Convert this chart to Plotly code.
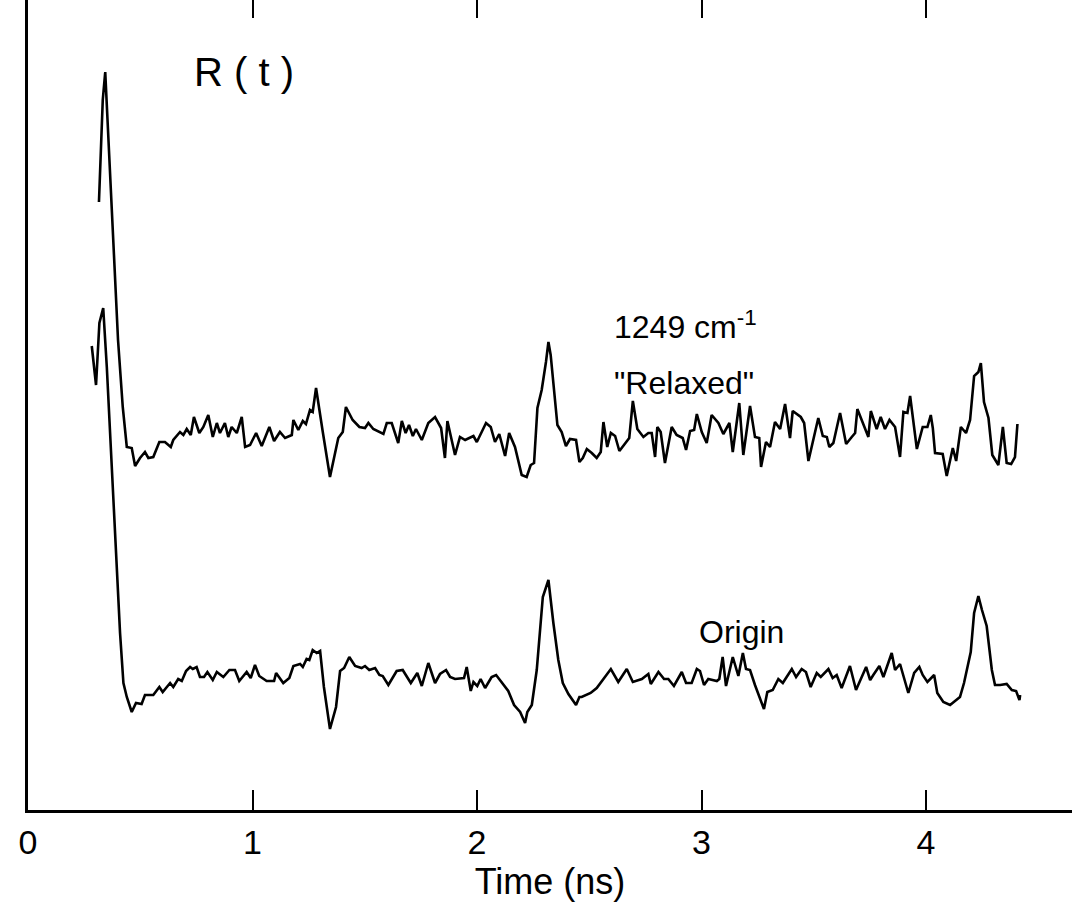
import plotly.graph_objects as go

# Time axis (ns) and response R(t) in arbitrary units for the two spectra
t_relaxed = [0.316, 0.333, 0.344, 0.356, 0.379, 0.401, 0.422, 0.440, 0.462, 0.477, 0.499, 0.521,
             0.536, 0.558, 0.585, 0.610, 0.636, 0.647, 0.677, 0.692, 0.707, 0.725, 0.739, 0.763,
             0.781, 0.803, 0.823, 0.841, 0.855, 0.877, 0.892, 0.907, 0.930, 0.952, 0.967, 0.989,
             1.016, 1.041, 1.075, 1.096, 1.122, 1.145, 1.175, 1.182, 1.204, 1.224, 1.238, 1.256,
             1.268, 1.283, 1.313, 1.345, 1.382, 1.402, 1.416, 1.446, 1.476, 1.501, 1.516, 1.538,
             1.583, 1.598, 1.620, 1.649, 1.665, 1.682, 1.697, 1.714, 1.728, 1.754, 1.783, 1.813,
             1.840, 1.857, 1.868, 1.902, 1.924, 1.947, 1.984, 1.999, 2.025, 2.040, 2.061, 2.080,
             2.099, 2.125, 2.143, 2.169, 2.199, 2.221, 2.239, 2.254, 2.269, 2.288, 2.307, 2.318,
             2.328, 2.358, 2.377, 2.396, 2.414, 2.441, 2.456, 2.471, 2.489, 2.511, 2.533, 2.551,
             2.563, 2.580, 2.596, 2.615, 2.634, 2.659, 2.678, 2.694, 2.714, 2.741, 2.763, 2.778,
             2.793, 2.803, 2.818, 2.837, 2.867, 2.889, 2.916, 2.931, 2.949, 2.967, 2.979, 3.001,
             3.023, 3.045, 3.075, 3.097, 3.124, 3.139, 3.168, 3.186, 3.216, 3.238, 3.257, 3.265,
             3.287, 3.305, 3.327, 3.350, 3.372, 3.394, 3.406, 3.442, 3.457, 3.476, 3.498, 3.520,
             3.540, 3.558, 3.569, 3.587, 3.617, 3.644, 3.669, 3.684, 3.694, 3.718, 3.743, 3.754,
             3.780, 3.798, 3.817, 3.837, 3.862, 3.884, 3.899, 3.917, 3.929, 3.959, 3.985, 4.006,
             4.021, 4.030, 4.040, 4.074, 4.092, 4.119, 4.134, 4.155, 4.178, 4.196, 4.214, 4.233,
             4.244, 4.258, 4.278, 4.295, 4.322, 4.342, 4.359, 4.379, 4.396, 4.407]
r_relaxed = [6.08, 7.10, 7.38, 6.80, 5.70, 4.70, 4.03, 3.63, 3.62, 3.44, 3.52, 3.58,
             3.52, 3.53, 3.68, 3.68, 3.63, 3.70, 3.78, 3.75, 3.81, 3.75, 3.93, 3.77,
             3.83, 3.95, 3.73, 3.87, 3.77, 3.87, 3.73, 3.83, 3.77, 3.93, 3.63, 3.65,
             3.77, 3.64, 3.83, 3.69, 3.78, 3.72, 3.75, 3.90, 3.80, 3.89, 3.86, 4.00,
             3.98, 4.22, 3.78, 3.33, 3.72, 3.78, 4.03, 3.90, 3.83, 3.82, 3.87, 3.81,
             3.76, 3.87, 3.87, 3.67, 3.89, 3.77, 3.85, 3.74, 3.81, 3.70, 3.87, 3.93,
             3.82, 3.52, 3.89, 3.55, 3.73, 3.70, 3.74, 3.68, 3.80, 3.87, 3.83, 3.68,
             3.76, 3.54, 3.77, 3.63, 3.35, 3.33, 3.45, 3.47, 4.02, 4.20, 4.48, 4.68,
             4.55, 3.85, 3.78, 3.64, 3.71, 3.70, 3.48, 3.52, 3.61, 3.57, 3.52, 3.58,
             3.88, 3.63, 3.77, 3.74, 3.59, 3.66, 3.72, 4.09, 3.81, 3.73, 3.77, 3.77,
             3.53, 3.83, 3.78, 3.47, 3.83, 3.75, 3.72, 3.60, 3.79, 3.80, 3.96, 3.78,
             3.67, 3.95, 3.87, 3.76, 3.87, 3.58, 4.07, 3.55, 4.04, 3.73, 3.72, 3.43,
             3.68, 3.63, 3.88, 3.81, 4.06, 3.72, 3.99, 3.93, 3.87, 3.49, 3.70, 3.92,
             3.74, 3.73, 3.63, 3.67, 3.97, 3.66, 3.73, 3.77, 4.01, 3.88, 3.73, 3.99,
             3.81, 3.93, 3.81, 3.90, 3.83, 3.53, 3.98, 3.97, 4.14, 3.61, 3.83, 3.83,
             3.95, 3.82, 3.57, 3.56, 3.34, 3.62, 3.49, 3.83, 3.77, 3.90, 4.34, 4.38,
             4.47, 4.08, 3.92, 3.55, 3.45, 3.83, 3.47, 3.46, 3.53, 3.86]

t_origin = [0.284, 0.303, 0.318, 0.335, 0.351, 0.365, 0.380, 0.395, 0.410, 0.425, 0.440, 0.462,
            0.481, 0.506, 0.521, 0.558, 0.585, 0.600, 0.633, 0.647, 0.669, 0.685, 0.704, 0.722,
            0.734, 0.751, 0.766, 0.784, 0.799, 0.823, 0.841, 0.870, 0.897, 0.922, 0.941, 0.974,
            0.992, 1.011, 1.030, 1.063, 1.096, 1.105, 1.137, 1.164, 1.182, 1.212, 1.224, 1.241,
            1.253, 1.268, 1.286, 1.301, 1.318, 1.345, 1.372, 1.390, 1.408, 1.431, 1.457, 1.486,
            1.501, 1.520, 1.546, 1.565, 1.580, 1.605, 1.642, 1.669, 1.705, 1.734, 1.754, 1.783,
            1.813, 1.835, 1.862, 1.880, 1.902, 1.942, 1.954, 1.972, 1.984, 2.001, 2.016, 2.036,
            2.065, 2.085, 2.110, 2.139, 2.165, 2.192, 2.214, 2.224, 2.244, 2.266, 2.293, 2.318,
            2.340, 2.362, 2.382, 2.407, 2.441, 2.456, 2.466, 2.486, 2.506, 2.533, 2.563, 2.596,
            2.629, 2.667, 2.694, 2.734, 2.763, 2.774, 2.808, 2.833, 2.852, 2.877, 2.912, 2.931,
            2.956, 2.979, 2.993, 3.011, 3.030, 3.068, 3.079, 3.094, 3.109, 3.139, 3.164, 3.184,
            3.198, 3.216, 3.238, 3.261, 3.278, 3.293, 3.317, 3.342, 3.362, 3.379, 3.402, 3.421,
            3.446, 3.465, 3.486, 3.513, 3.531, 3.565, 3.584, 3.602, 3.624, 3.661, 3.688, 3.733,
            3.751, 3.765, 3.792, 3.810, 3.825, 3.847, 3.862, 3.884, 3.921, 3.947, 3.970, 3.985,
            4.006, 4.036, 4.050, 4.077, 4.107, 4.134, 4.151, 4.169, 4.199, 4.214, 4.233, 4.249,
            4.270, 4.293, 4.307, 4.330, 4.359, 4.382, 4.401, 4.416, 4.419]
r_origin = [4.64, 4.25, 4.87, 5.02, 4.43, 3.77, 3.10, 2.43, 1.77, 1.27, 1.13, 0.98,
            1.07, 1.06, 1.15, 1.15, 1.23, 1.18, 1.27, 1.23, 1.31, 1.29, 1.39, 1.43,
            1.41, 1.43, 1.33, 1.33, 1.38, 1.30, 1.38, 1.33, 1.40, 1.40, 1.29, 1.38,
            1.32, 1.45, 1.34, 1.29, 1.29, 1.37, 1.27, 1.32, 1.44, 1.46, 1.43, 1.51,
            1.50, 1.60, 1.57, 1.59, 1.23, 0.81, 1.03, 1.39, 1.42, 1.53, 1.44, 1.42,
            1.44, 1.40, 1.42, 1.35, 1.34, 1.25, 1.39, 1.40, 1.27, 1.37, 1.24, 1.47,
            1.27, 1.36, 1.40, 1.33, 1.31, 1.32, 1.43, 1.19, 1.28, 1.24, 1.31, 1.22,
            1.33, 1.35, 1.28, 1.19, 1.05, 0.98, 0.87, 0.98, 1.05, 1.40, 2.13, 2.30,
            1.87, 1.50, 1.27, 1.16, 1.05, 1.13, 1.13, 1.15, 1.17, 1.22, 1.31, 1.41,
            1.28, 1.41, 1.28, 1.31, 1.36, 1.26, 1.38, 1.31, 1.31, 1.24, 1.38, 1.27,
            1.27, 1.41, 1.39, 1.25, 1.31, 1.29, 1.31, 1.53, 1.24, 1.53, 1.34, 1.57,
            1.41, 1.40, 1.25, 1.10, 1.01, 1.18, 1.20, 1.31, 1.27, 1.33, 1.41, 1.33,
            1.41, 1.38, 1.23, 1.37, 1.33, 1.41, 1.32, 1.35, 1.22, 1.44, 1.20, 1.43,
            1.30, 1.35, 1.44, 1.33, 1.42, 1.57, 1.40, 1.46, 1.17, 1.37, 1.43, 1.35,
            1.28, 1.35, 1.17, 1.08, 1.05, 1.10, 1.13, 1.27, 1.58, 1.97, 2.14, 2.00,
            1.84, 1.40, 1.25, 1.25, 1.26, 1.20, 1.19, 1.10, 1.15]

tick_vals = [0, 1, 2, 3, 4]
tick_text = ["0", "1", "2", "3", "4"]

FONT = "Liberation Sans Narrow, Liberation Sans, Arial, sans-serif"
X_RANGE = [0, 4.65]
Y_RANGE = [0, 8.1]

fig = go.Figure()
fig.add_trace(go.Scatter(x=t_relaxed, y=r_relaxed, mode="lines",
                         line=dict(color="black", width=2.6), showlegend=False,
                         hoverinfo="skip"))
fig.add_trace(go.Scatter(x=t_origin, y=r_origin, mode="lines",
                         line=dict(color="black", width=2.6), showlegend=False,
                         hoverinfo="skip"))
# empty trace that carries the top tick axis
fig.add_trace(go.Scatter(x=[None], y=[None], xaxis="x2", showlegend=False,
                         hoverinfo="skip"))

fig.update_layout(
    width=1072, height=916,
    margin=dict(l=28, r=0, t=0, b=106),
    paper_bgcolor="white", plot_bgcolor="white",
    font=dict(family=FONT, color="black", size=34),
    xaxis=dict(range=X_RANGE, showgrid=False, zeroline=False,
               showline=True, linecolor="black", linewidth=3,
               ticks="inside", ticklen=20, tickwidth=2, tickcolor="black",
               tickvals=tick_vals, ticktext=tick_text,
               tickfont=dict(family=FONT, size=34),
               title=dict(text="Time (ns)", font=dict(family=FONT, size=36), standoff=4)),
    xaxis2=dict(range=X_RANGE, overlaying="x", side="top", showgrid=False,
                zeroline=False, showline=False,
                ticks="inside", ticklen=18, tickwidth=2, tickcolor="black",
                tickvals=tick_vals[1:], showticklabels=False),
    yaxis=dict(range=Y_RANGE, showgrid=False, zeroline=False,
               showline=True, linecolor="black", linewidth=3,
               ticks="", showticklabels=False),
    annotations=[
        dict(x=0.73, y=7.38, xref="x", yref="y", text="R ( t )", showarrow=False,
             font=dict(family=FONT, size=40), xanchor="left", yanchor="middle"),
        dict(x=2.60, y=4.85, xref="x", yref="y", text="1249 cm<sup>-1</sup>",
             showarrow=False, font=dict(family=FONT, size=32),
             xanchor="left", yanchor="middle"),
        dict(x=2.60, y=4.27, xref="x", yref="y", text="\"Relaxed\"",
             showarrow=False, font=dict(family=FONT, size=32),
             xanchor="left", yanchor="middle"),
        dict(x=2.98, y=1.78, xref="x", yref="y", text="Origin",
             showarrow=False, font=dict(family=FONT, size=32),
             xanchor="left", yanchor="middle"),
    ],
)

fig.write_html("out.html")
